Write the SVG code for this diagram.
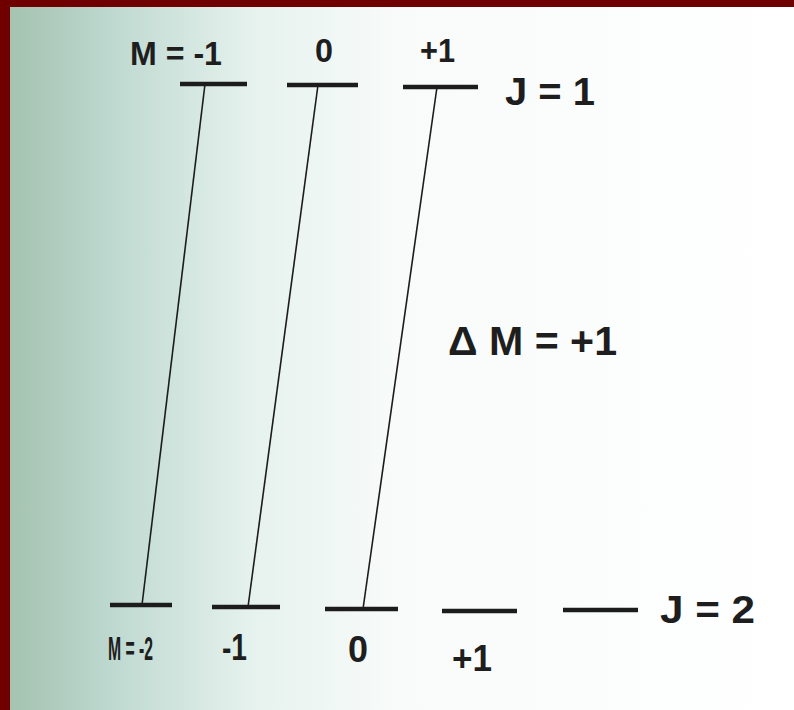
<svg xmlns="http://www.w3.org/2000/svg" width="794" height="710" viewBox="0 0 794 710">
<defs>
<linearGradient id="bg" x1="0" y1="0" x2="794" y2="0" gradientUnits="userSpaceOnUse">
<stop offset="0" stop-color="#a3c2ae"/>
<stop offset="0.06" stop-color="#adcabb"/>
<stop offset="0.15" stop-color="#c0dad2"/>
<stop offset="0.32" stop-color="#e6f2ee"/>
<stop offset="0.5" stop-color="#f8fbfa"/>
<stop offset="1" stop-color="#ffffff"/>
</linearGradient>
<style>
.lvl{stroke:#1c1c1c;stroke-width:4.5;fill:none}
.con{stroke:#1c1c1c;stroke-width:1.6;fill:none}
.t{font-family:"Liberation Sans",Arial,sans-serif;font-weight:bold;fill:#1e1e1e;font-size:34px}
</style>
</defs>
<rect x="0" y="0" width="794" height="710" fill="url(#bg)"/>
<rect x="0" y="0" width="794" height="7" fill="#700000"/>
<rect x="0" y="0" width="10" height="710" fill="#700000"/>

<g id="connectors">
<line class="con" x1="205" y1="84" x2="142" y2="605"/>
<line class="con" x1="318" y1="85" x2="248" y2="607"/>
<line class="con" x1="437" y1="87" x2="363" y2="609"/>
</g>

<g id="J1">
<g id="J1_Mm1"><line class="lvl" x1="180" y1="84" x2="247" y2="84"/><text class="t" x="130" y="65" textLength="92" lengthAdjust="spacingAndGlyphs">M = -1</text></g>
<g id="J1_M0"><line class="lvl" x1="287" y1="85" x2="358" y2="85"/><text class="t" x="315" y="62" textLength="18" lengthAdjust="spacingAndGlyphs">0</text></g>
<g id="J1_Mp1"><line class="lvl" x1="403" y1="87" x2="478" y2="87"/><text class="t" x="420" y="62" textLength="35" lengthAdjust="spacingAndGlyphs">+1</text></g>
<text class="t" x="505" y="105" textLength="90" lengthAdjust="spacingAndGlyphs" style="font-size:38px">J = 1</text>
</g>

<g id="deltaM"><text class="t" x="448" y="355" textLength="169" lengthAdjust="spacingAndGlyphs" style="font-size:40px">Δ M = +1</text></g>

<g id="J2">
<g id="J2_Mm2"><line class="lvl" x1="110" y1="605" x2="172" y2="605"/><text class="t" x="108" y="660" textLength="45" lengthAdjust="spacingAndGlyphs" style="font-size:34px">M = -2</text></g>
<g id="J2_Mm1"><line class="lvl" x1="212" y1="607" x2="280" y2="607"/><text class="t" x="222" y="660" textLength="25" lengthAdjust="spacingAndGlyphs" style="font-size:37px">-1</text></g>
<g id="J2_M0"><line class="lvl" x1="325" y1="609" x2="398" y2="609"/><text class="t" x="348" y="662" textLength="20" lengthAdjust="spacingAndGlyphs" style="font-size:37px">0</text></g>
<g id="J2_Mp1"><line class="lvl" x1="442" y1="611" x2="517" y2="611"/><text class="t" x="452" y="671" textLength="40" lengthAdjust="spacingAndGlyphs" style="font-size:36px">+1</text></g>
<g id="J2_Mp2"><line class="lvl" x1="563" y1="610" x2="638" y2="610"/></g>
<text class="t" x="660" y="623" textLength="95" lengthAdjust="spacingAndGlyphs" style="font-size:38px">J = 2</text>
</g>
</svg>
